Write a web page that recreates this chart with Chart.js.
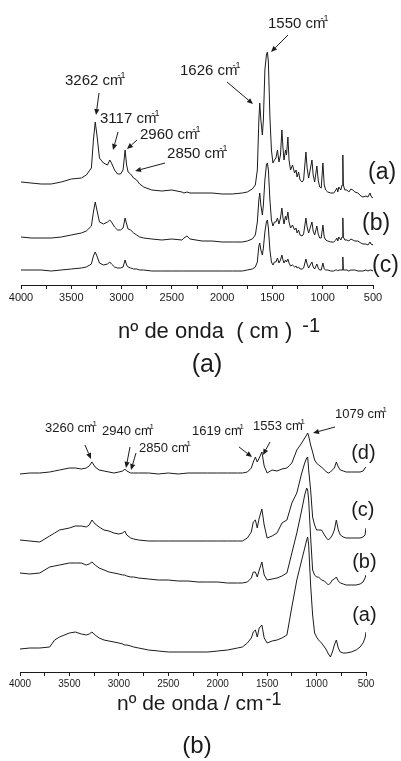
<!DOCTYPE html>
<html><head><meta charset="utf-8">
<script src="https://cdn.jsdelivr.net/npm/chart.js@4.4.0/dist/chart.umd.min.js"></script>
<style>
html,body{margin:0;padding:0;background:#fff;}
#wrap{position:relative;width:401px;height:761px;overflow:hidden;}
canvas{position:absolute;left:0;}
</style></head><body>
<div id="wrap">
<canvas id="cTop" width="401" height="395" style="top:0px"></canvas>
<canvas id="cBot" width="401" height="366" style="top:395px"></canvas>
</div>
<script>
// ---------- DATA (panel a: wavenumber / cm-1 and relative intensities) ----------
const wnTop = [
 4000,3900,3800,3700,3600,3500,3400,3350,3300,3280,
 3262,3245,3220,3180,3140,3117,3100,3070,3040,3010,
 2985,2965,2950,2935,2910,2880,2850,2820,2780,2700,
 2600,2500,2400,2380,2350,2320,2200,2100,2000,1900,
 1800,1750,1700,1670,1650,1635,1626,1615,1600,1590,
 1575,1560,1550,1540,1525,1510,1495,1480,1465,1450,
 1435,1420,1406,1395,1385,1370,1360,1346,1335,1320,
 1300,1280,1265,1255,1240,1225,1205,1190,1167,1155,
 1140,1125,1107,1095,1080,1058,1045,1030,1015,998,
 985,970,950,920,890,870,860,850,840,820,
 808,800,795,780,760,740,720,700,680,650,
 620,600,570,550,530,520,505,500];
const topA = [
 1.03,1.02,1.01,1.01,1.03,1.06,1.07,1.10,1.17,1.45,
 1.63,1.50,1.27,1.22,1.20,1.25,1.22,1.15,1.11,1.11,
 1.15,1.35,1.20,1.13,1.11,1.07,1.05,1.01,0.98,0.95,
 0.94,0.95,0.93,0.92,0.93,0.92,0.92,0.92,0.91,0.91,
 0.92,0.93,0.96,1.00,1.15,1.65,1.82,1.65,1.50,1.65,
 2.15,2.30,2.33,2.23,1.68,1.35,1.22,1.25,1.27,1.35,
 1.23,1.30,1.55,1.37,1.25,1.35,1.30,1.48,1.25,1.15,
 1.20,1.12,1.15,1.08,1.13,1.05,1.03,1.05,1.33,1.17,
 1.07,1.15,1.25,1.10,1.03,1.19,1.05,0.98,0.97,1.22,
 1.00,0.95,0.93,0.92,0.92,0.95,0.97,0.93,0.98,0.95,
 1.00,1.30,1.00,0.95,0.95,0.93,0.96,0.95,0.93,0.92,
 0.89,0.88,0.89,0.88,0.92,0.89,0.87,0.88];
const topB = [
 0.48,0.47,0.47,0.47,0.48,0.50,0.52,0.54,0.59,0.73,
 0.83,0.75,0.63,0.61,0.63,0.65,0.63,0.58,0.55,0.55,
 0.57,0.67,0.61,0.56,0.55,0.52,0.50,0.48,0.47,0.46,
 0.45,0.46,0.45,0.47,0.49,0.46,0.44,0.44,0.43,0.43,
 0.43,0.44,0.46,0.50,0.63,0.85,0.92,0.80,0.70,0.80,
 1.05,1.20,1.22,1.15,0.85,0.65,0.59,0.63,0.63,0.67,
 0.61,0.67,0.77,0.67,0.61,0.69,0.65,0.73,0.63,0.57,
 0.60,0.55,0.57,0.52,0.55,0.50,0.49,0.51,0.67,0.58,
 0.52,0.57,0.63,0.54,0.50,0.59,0.51,0.47,0.47,0.60,
 0.48,0.45,0.44,0.43,0.43,0.45,0.47,0.44,0.48,0.45,
 0.48,0.67,0.48,0.45,0.45,0.44,0.46,0.45,0.44,0.44,
 0.42,0.41,0.41,0.40,0.43,0.41,0.40,0.41];
const topC = [
 0.15,0.15,0.15,0.14,0.15,0.16,0.17,0.18,0.21,0.29,
 0.33,0.29,0.22,0.20,0.21,0.23,0.21,0.18,0.17,0.17,
 0.18,0.25,0.20,0.18,0.17,0.16,0.16,0.15,0.15,0.14,
 0.14,0.14,0.14,0.14,0.14,0.14,0.14,0.14,0.14,0.14,
 0.14,0.15,0.16,0.18,0.23,0.39,0.42,0.35,0.30,0.37,
 0.53,0.63,0.65,0.57,0.35,0.23,0.20,0.23,0.23,0.27,
 0.22,0.25,0.30,0.25,0.22,0.25,0.23,0.26,0.22,0.19,
 0.20,0.18,0.19,0.17,0.18,0.16,0.16,0.17,0.26,0.21,
 0.17,0.20,0.23,0.18,0.16,0.21,0.17,0.15,0.15,0.22,
 0.16,0.15,0.15,0.14,0.14,0.15,0.15,0.14,0.15,0.15,
 0.15,0.28,0.15,0.15,0.15,0.14,0.15,0.15,0.15,0.14,
 0.14,0.14,0.15,0.14,0.15,0.15,0.14,0.15];
const topSeriesLabels = ['(a)','(b)','(c)'];
const topPeakLabels = ['3262 cm','3117 cm','2960 cm','2850 cm','1626 cm','1550 cm'];
const topPeakWn = [3254,3085,2946,2866,1693,1514];
const topPeakVal = [1.70,1.35,1.36,1.14,1.81,2.33];

// ---------- DATA (panel b) ----------
const wnBot = [
 4000,3900,3800,3700,3650,3600,3500,3440,3380,3330,
 3300,3272,3240,3200,3150,3100,3050,3000,2960,2940,
 2920,2880,2850,2800,2700,2600,2500,2400,2300,2200,
 2100,2000,1900,1800,1750,1700,1660,1640,1619,1600,
 1580,1553,1530,1500,1450,1400,1350,1300,1250,1200,
 1150,1120,1100,1090,1080,1060,1040,1020,1000,980,
 950,920,900,880,860,840,820,800,780,760,
 730,700,650,600,560,530,510,500];
const botD = [
 1.98,1.99,1.99,2.00,2.01,2.02,2.04,2.04,2.03,2.04,
 2.06,2.10,2.05,2.02,2.01,2.00,1.99,2.00,2.01,2.03,
 2.01,1.99,1.99,1.99,1.99,1.98,1.99,1.98,1.99,1.99,
 1.99,1.99,1.99,1.99,1.99,2.00,2.04,2.10,2.15,2.10,
 2.14,2.20,2.06,1.99,2.02,2.01,2.03,2.04,2.09,2.22,
 2.29,2.34,2.37,2.39,2.36,2.27,2.20,2.12,2.09,2.07,
 2.05,2.02,2.00,1.99,2.00,2.02,2.04,2.10,2.05,2.02,
 2.01,2.00,2.00,2.00,2.00,2.01,2.04,2.05];
const botC = [
 1.32,1.31,1.30,1.36,1.39,1.42,1.44,1.46,1.46,1.45,
 1.47,1.52,1.48,1.45,1.42,1.41,1.39,1.38,1.39,1.41,
 1.37,1.34,1.33,1.32,1.31,1.31,1.31,1.31,1.31,1.31,
 1.31,1.31,1.31,1.31,1.31,1.34,1.40,1.50,1.52,1.44,
 1.54,1.63,1.47,1.34,1.36,1.39,1.49,1.52,1.69,1.79,
 1.99,2.09,2.14,2.15,2.02,1.82,1.55,1.47,1.42,1.42,
 1.42,1.37,1.34,1.32,1.34,1.37,1.42,1.52,1.42,1.37,
 1.35,1.34,1.34,1.34,1.34,1.35,1.37,1.44];
const botB = [
 0.99,0.98,0.99,1.05,1.06,1.07,1.09,1.09,1.09,1.07,
 1.08,1.10,1.07,1.04,1.02,1.00,0.99,0.98,0.97,0.97,
 0.96,0.95,0.95,0.94,0.93,0.92,0.92,0.91,0.91,0.90,
 0.90,0.90,0.89,0.89,0.89,0.90,0.94,1.00,1.00,0.95,
 1.02,1.10,0.97,0.92,0.93,0.94,0.96,0.99,1.19,1.39,
 1.62,1.77,1.84,1.82,1.72,1.35,1.02,0.97,0.95,0.95,
 0.92,0.91,0.89,0.87,0.89,0.92,0.93,0.95,0.91,0.89,
 0.88,0.87,0.87,0.87,0.88,0.90,0.94,0.97];
const botA = [
 0.23,0.24,0.24,0.25,0.32,0.35,0.39,0.40,0.38,0.37,
 0.38,0.40,0.37,0.34,0.32,0.31,0.30,0.29,0.28,0.27,
 0.27,0.26,0.25,0.24,0.22,0.21,0.20,0.20,0.20,0.20,
 0.20,0.21,0.22,0.24,0.25,0.29,0.34,0.40,0.42,0.35,
 0.44,0.47,0.34,0.29,0.31,0.32,0.34,0.37,0.65,0.92,
 1.12,1.24,1.32,1.35,1.27,0.87,0.57,0.39,0.35,0.32,
 0.29,0.25,0.22,0.18,0.15,0.20,0.27,0.32,0.24,0.20,
 0.19,0.19,0.20,0.22,0.25,0.29,0.34,0.40];
const botSeriesLabels = ['(a)','(b)','(c)','(d)'];
const botPeakLabels = ['3260 cm','2940 cm','2850 cm','1619 cm','1553 cm','1079 cm'];
const botPeakWn = [3282,2928,2877,1653,1542,1036];
const botPeakVal = [2.13,2.04,2.02,2.15,2.17,2.39];

const xTickStep = 250;
const xMajor = 500;

// ---------- STYLE / LAYOUT ----------
const FONT = "'Liberation Sans', Arial, Helvetica, sans-serif";
const INK = '#1b1b1b';

const topLayout = {
  yMax: 2.75, pad: {left:21, right:28, top:10, bottom:85}, tickFont: 11,
  labelFont: 23,
  labelAnchors: [{wn:550, v:1.06}, {wn:609, v:0.55}, {wn:510, v:0.13}],
  peakFont: 15,
  peakOffsets: [
    {tail:[3,-22], text:[-31,-30]},
    {tail:[5,-18], text:[-13,-27]},
    {tail:[10,-9], text:[13,-10]},
    {tail:[30,-8], text:[32,-13]},
    {tail:[-26,-22], text:[-73,-29]},
    {tail:[17,-17], text:[-3,-24]}],
  title: {main:'nº de onda  ( cm )', sup:'-1', dx:97, base:53, font:22, supFont:20, supGap:10, supBase:47},
  caption: {text:'(a)', cx:186, base:87, font:25}
};
const botLayout = {
  yMax: 2.62, pad: {left:20, right:35, top:15, bottom:64}, tickFont: 10,
  labelFont: 20,
  labelAnchors: [{wn:640, v:0.51}, {wn:640, v:1.04}, {wn:650, v:1.56}, {wn:650, v:2.13}],
  peakFont: 13,
  peakOffsets: [
    {tail:[-6,-14], text:[-46,-27]},
    {tail:[4,-21], text:[-24,-33]},
    {tail:[5,-17], text:[8,-18]},
    {tail:[-13,-10], text:[-60,-22]},
    {tail:[7,-13], text:[-10,-25]},
    {tail:[22,-6], text:[22,-15]}],
  title: {main:'nº de onda / cm', sup:'-1', dx:97, base:38, font:21, supFont:18, supGap:2, supBase:33},
  caption: {text:'(b)', cx:177, base:81, font:24}
};

function arrow(ctx, x1, y1, x2, y2) {
  const ang = Math.atan2(y2 - y1, x2 - x1);
  const L = 6, W = 2.6;
  const bx = x2 - L * Math.cos(ang), by = y2 - L * Math.sin(ang);
  ctx.beginPath(); ctx.moveTo(x1, y1); ctx.lineTo(bx, by); ctx.stroke();
  ctx.beginPath();
  ctx.moveTo(x2, y2);
  ctx.lineTo(bx + W * Math.sin(ang), by - W * Math.cos(ang));
  ctx.lineTo(bx - W * Math.sin(ang), by + W * Math.cos(ang));
  ctx.closePath(); ctx.fill();
}

function decorPlugin(lay, seriesLabels, peakLabels, peakWn, peakVal) {
  return {
    id: 'decor',
    afterDraw(chart) {
      const ctx = chart.ctx, xs = chart.scales.x, ys = chart.scales.y, ca = chart.chartArea;
      ctx.save();
      ctx.fillStyle = INK; ctx.strokeStyle = INK; ctx.lineWidth = 1;
      ctx.textBaseline = 'alphabetic'; ctx.textAlign = 'left';
      // series labels
      ctx.font = lay.labelFont + 'px ' + FONT;
      seriesLabels.forEach((t, i) => {
        const a = lay.labelAnchors[i];
        ctx.fillText(t, xs.getPixelForValue(a.wn), ys.getPixelForValue(a.v));
      });
      // peak annotations
      peakLabels.forEach((t, i) => {
        const px = xs.getPixelForValue(peakWn[i]), py = ys.getPixelForValue(peakVal[i]);
        const o = lay.peakOffsets[i];
        arrow(ctx, px + o.tail[0], py + o.tail[1], px, py);
        ctx.font = lay.peakFont + 'px ' + FONT;
        const tx = px + o.text[0], ty = py + o.text[1];
        ctx.fillText(t, tx, ty);
        const w = ctx.measureText(t).width;
        ctx.font = Math.round(lay.peakFont * 0.62) + 'px ' + FONT;
        ctx.fillText('-1', tx + w - 5, ty - lay.peakFont * 0.5);
      });
      // axis title
      const T = lay.title;
      ctx.font = T.font + 'px ' + FONT;
      const tx = ca.left + T.dx;
      ctx.fillText(T.main, tx, ca.bottom + T.base);
      const mw = ctx.measureText(T.main).width;
      ctx.font = T.supFont + 'px ' + FONT;
      ctx.fillText(T.sup, tx + mw + T.supGap, ca.bottom + T.supBase);
      // caption
      const C = lay.caption;
      ctx.font = C.font + 'px ' + FONT;
      ctx.textAlign = 'center';
      ctx.fillText(C.text, ca.left + C.cx, ca.bottom + C.base);
      ctx.restore();
    }
  };
}

function makeChart(id, wn, series, lay, seriesLabels, peakLabels, peakWn, peakVal) {
  const datasets = series.map(s => ({
    data: wn.map((w, i) => ({x: w, y: s[i]})),
    borderColor: INK, borderWidth: 1, pointRadius: 0, tension: 0, fill: false
  }));
  return new Chart(document.getElementById(id), {
    type: 'line',
    data: {datasets},
    options: {
      responsive: false, animation: false, devicePixelRatio: 1, events: [],
      layout: {padding: lay.pad},
      plugins: {legend: {display: false}, tooltip: {enabled: false}, title: {display: false}},
      scales: {
        x: {
          type: 'linear', reverse: true, min: 500, max: 4000,
          afterFit: s => { s.height = 25; },
          border: {display: true, color: INK, width: 1},
          grid: {display: true, drawOnChartArea: false, drawTicks: true, tickLength: 4, color: INK, lineWidth: 1},
          ticks: {
            stepSize: xTickStep, autoSkip: false, maxRotation: 0, padding: 2,
            color: INK, font: {family: FONT, size: lay.tickFont},
            callback: v => (v % xMajor === 0 ? String(v) : '')
          }
        },
        y: {type: 'linear', display: false, min: 0, max: lay.yMax}
      }
    },
    plugins: [decorPlugin(lay, seriesLabels, peakLabels, peakWn, peakVal)]
  });
}

makeChart('cTop', wnTop, [topA, topB, topC], topLayout, topSeriesLabels, topPeakLabels, topPeakWn, topPeakVal);
makeChart('cBot', wnBot, [botA, botB, botC, botD], botLayout, botSeriesLabels, botPeakLabels, botPeakWn, botPeakVal);
</script>
</body></html>
